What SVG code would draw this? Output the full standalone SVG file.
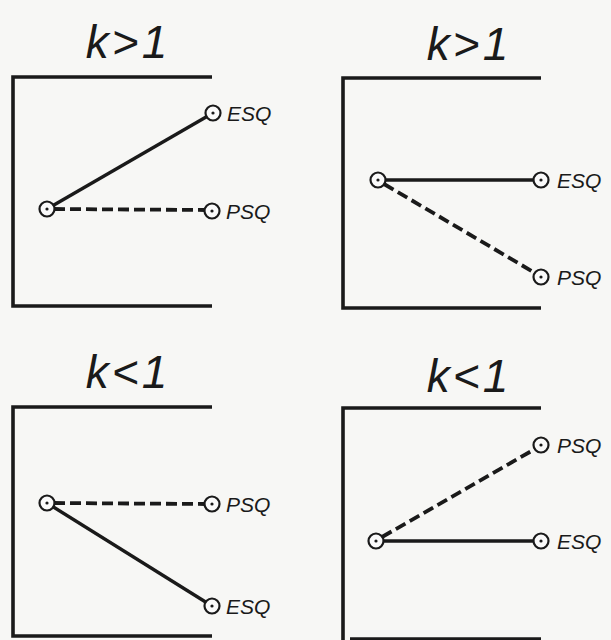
<svg xmlns="http://www.w3.org/2000/svg" width="611" height="640" viewBox="0 0 611 640">
<style>
.frame{fill:none;stroke:#1a1a1a;stroke-width:3.6}
.solid{stroke:#1a1a1a;stroke-width:3.4}
.dash{stroke:#1a1a1a;stroke-width:3.8;stroke-dasharray:11 5}
.node circle.o{fill:#fafafa;stroke:#1a1a1a;stroke-width:2.2}
.node circle.d{fill:#1a1a1a}
.lbl{font-family:"Liberation Sans",Arial,sans-serif;font-style:italic;font-size:21px;fill:#1a1a1a}
.title{font-family:"Liberation Sans",Arial,sans-serif;font-style:italic;font-size:46px;fill:#1a1a1a;text-anchor:middle;letter-spacing:3px}
</style>
<rect width="611" height="640" fill="#f7f7f5"/>
<g id="panel1">
<path class="frame" d="M212,77 H13 V306 H212"/>
<text class="title" x="128" y="58">k&gt;1</text>
</g>
<g id="panel2">
<path class="frame" d="M541,78 H343 V308 H541"/>
<text class="title" x="469" y="60">k&gt;1</text>
</g>
<g id="panel3">
<path class="frame" d="M212,407 H13 V636 H212"/>
<text class="title" x="128" y="388">k&lt;1</text>
</g>
<g id="panel4">
<path class="frame" d="M541,408 H343 V640"/>
<path class="frame" d="M350,639 H541"/>
<text class="title" x="469" y="392">k&lt;1</text>
</g>
<g id="connectors">
<line class="solid" x1="47" y1="209" x2="213" y2="113"/>
<line class="dash" x1="54" y1="209" x2="205" y2="210"/>
<line class="solid" x1="378" y1="180" x2="541" y2="180"/>
<line class="dash" x1="384" y1="184" x2="535" y2="273"/>
<line class="dash" x1="54" y1="503" x2="205" y2="504"/>
<line class="solid" x1="47" y1="503" x2="212" y2="606"/>
<line class="dash" x1="382" y1="537" x2="535" y2="449"/>
<line class="solid" x1="376" y1="541" x2="541" y2="541"/>
</g>
<g id="p1-origin" class="node"><circle class="o" cx="47" cy="209" r="7.5"/><circle class="d" cx="47" cy="209" r="1.6"/></g>
<g id="p1-esq" class="node"><circle class="o" cx="213" cy="113" r="7.5"/><circle class="d" cx="213" cy="113" r="1.6"/><text class="lbl" x="227" y="121">ESQ</text></g>
<g id="p1-psq" class="node"><circle class="o" cx="212" cy="211" r="7.5"/><circle class="d" cx="212" cy="211" r="1.6"/><text class="lbl" x="226" y="219">PSQ</text></g>
<g id="p2-origin" class="node"><circle class="o" cx="378" cy="180" r="7.5"/><circle class="d" cx="378" cy="180" r="1.6"/></g>
<g id="p2-esq" class="node"><circle class="o" cx="541" cy="180" r="7.5"/><circle class="d" cx="541" cy="180" r="1.6"/><text class="lbl" x="557" y="188">ESQ</text></g>
<g id="p2-psq" class="node"><circle class="o" cx="541" cy="277" r="7.5"/><circle class="d" cx="541" cy="277" r="1.6"/><text class="lbl" x="557" y="285">PSQ</text></g>
<g id="p3-origin" class="node"><circle class="o" cx="47" cy="503" r="7.5"/><circle class="d" cx="47" cy="503" r="1.6"/></g>
<g id="p3-psq" class="node"><circle class="o" cx="212" cy="504" r="7.5"/><circle class="d" cx="212" cy="504" r="1.6"/><text class="lbl" x="226" y="512">PSQ</text></g>
<g id="p3-esq" class="node"><circle class="o" cx="212" cy="606" r="7.5"/><circle class="d" cx="212" cy="606" r="1.6"/><text class="lbl" x="226" y="614">ESQ</text></g>
<g id="p4-origin" class="node"><circle class="o" cx="376" cy="541" r="7.5"/><circle class="d" cx="376" cy="541" r="1.6"/></g>
<g id="p4-psq" class="node"><circle class="o" cx="541" cy="445" r="7.5"/><circle class="d" cx="541" cy="445" r="1.6"/><text class="lbl" x="557" y="453">PSQ</text></g>
<g id="p4-esq" class="node"><circle class="o" cx="541" cy="541" r="7.5"/><circle class="d" cx="541" cy="541" r="1.6"/><text class="lbl" x="557" y="549">ESQ</text></g>
</svg>
